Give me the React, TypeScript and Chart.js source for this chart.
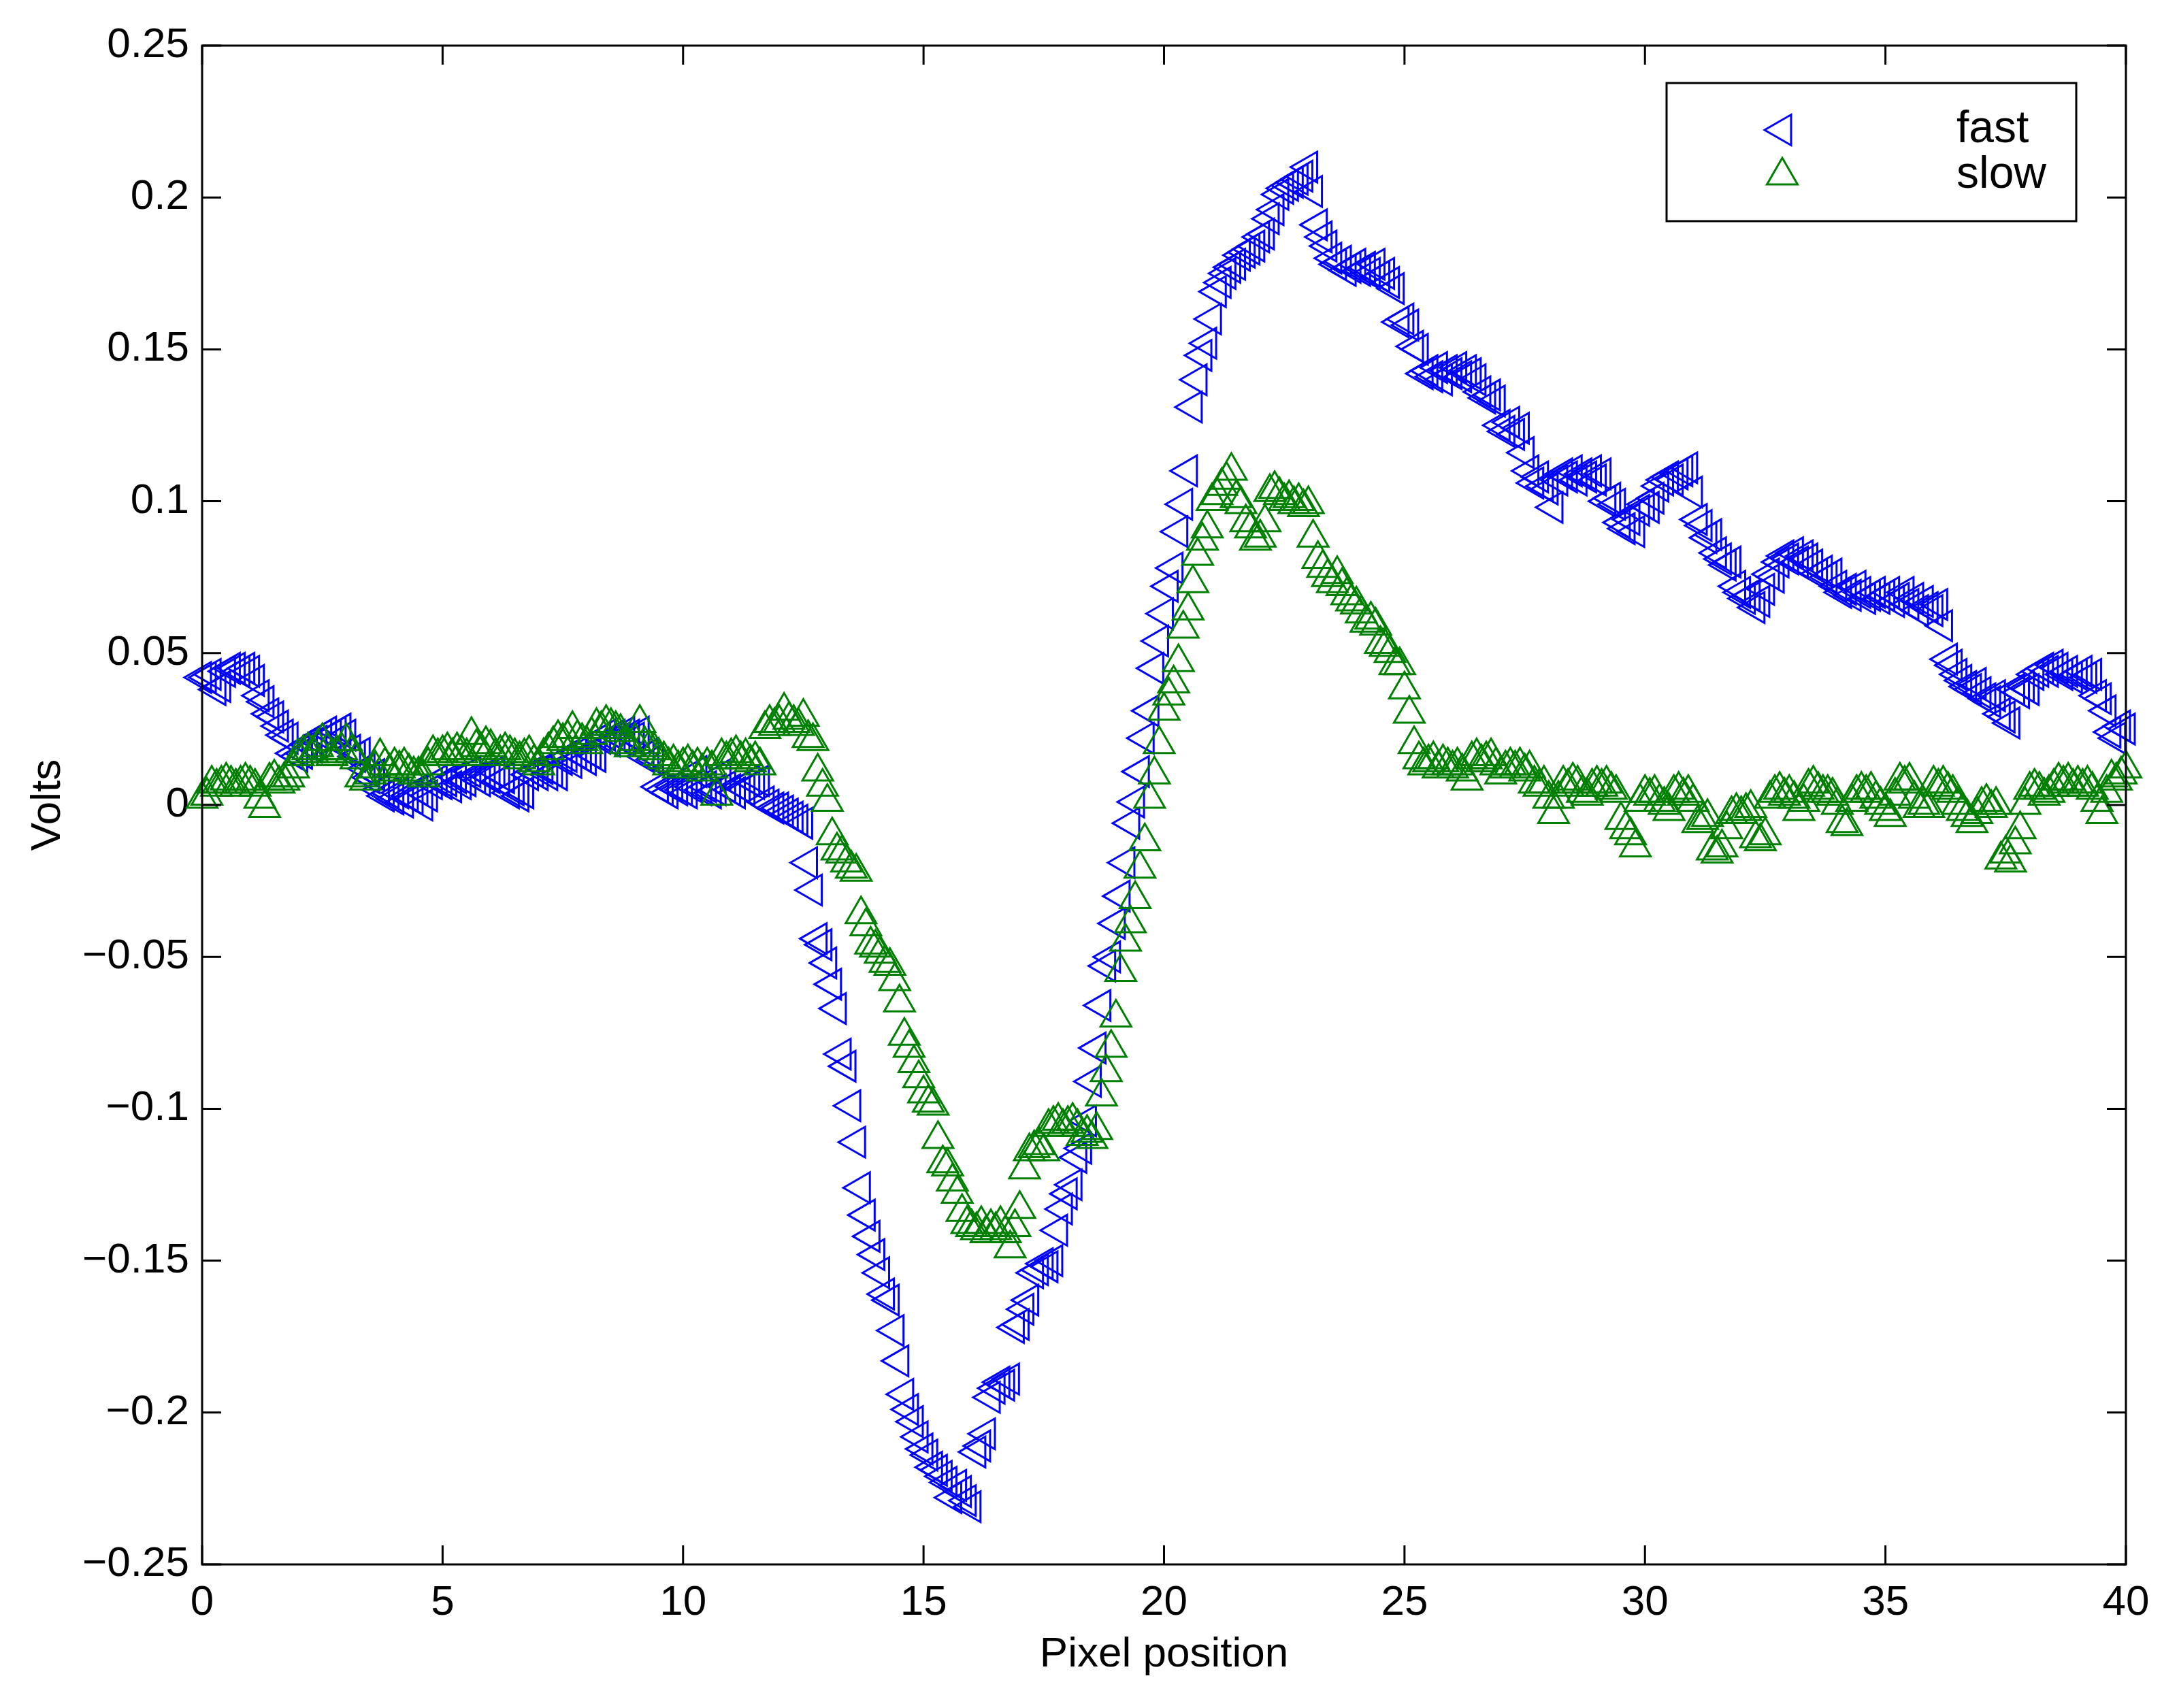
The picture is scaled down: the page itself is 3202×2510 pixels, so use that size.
import React, { useEffect, useRef } from 'react';
import { Chart, registerables } from 'chart.js';
import { drawPoint } from 'chart.js/helpers';

Chart.register(...registerables);

// ============================================
// DATA
// ============================================
// one sample every 0.1 pixel, 0 .. 40
const fastVolts: number[] = [
  0.042, 0.042, 0.043, 0.038, 0.039, 0.044, 0.045, 0.045, 0.044, 0.045,
  0.044, 0.041, 0.036, 0.034, 0.030, 0.029, 0.026, 0.023, 0.022, 0.017,
  0.016, 0.017, 0.020, 0.019, 0.021, 0.023, 0.024, 0.023, 0.024, 0.025,
  0.023, 0.018, 0.016, 0.017, 0.012, 0.009, 0.010, 0.005, 0.003, 0.004,
  0.002, 0.004, 0.001, 0.003, 0.002, 0.005, 0.000, 0.003, 0.007, 0.008,
  0.007, 0.008, 0.006, 0.009, 0.007, 0.008, 0.011, 0.009, 0.008, 0.010,
  0.009, 0.011, 0.008, 0.009, 0.004, 0.005, 0.003, 0.004, 0.010, 0.011,
  0.010, 0.012, 0.010, 0.011, 0.010, 0.015, 0.016, 0.014, 0.017, 0.016,
  0.015, 0.017, 0.016, 0.022, 0.023, 0.021, 0.023, 0.022, 0.024, 0.023,
  0.022, 0.024, 0.016, 0.017, 0.015, 0.006, 0.005, 0.004, 0.006, 0.005,
  0.005, 0.004, 0.006, 0.011, 0.005, 0.006, 0.004, 0.005, 0.010, 0.006,
  0.005, 0.004, 0.006, 0.005, 0.008, 0.007, 0.008, 0.001, 0.000, -0.001,
  -0.001, -0.002, -0.003, -0.004, -0.005, -0.006, -0.019, -0.028, -0.044, -0.046,
  -0.052, -0.059, -0.067, -0.082, -0.086, -0.099, -0.111, -0.126, -0.135, -0.142,
  -0.148, -0.154, -0.161, -0.163, -0.173, -0.183, -0.194, -0.199, -0.203, -0.208,
  -0.212, -0.214, -0.218, -0.219, -0.221, -0.223, -0.228, -0.224, -0.226, -0.229,
  -0.231, -0.213, -0.211, -0.207, -0.195, -0.192, -0.190, -0.191, -0.189, -0.172,
  -0.171, -0.166, -0.163, -0.154, -0.153, -0.151, -0.152, -0.150, -0.140, -0.133,
  -0.128, -0.125, -0.116, -0.113, -0.104, -0.091, -0.080, -0.066, -0.053, -0.050,
  -0.039, -0.030, -0.019, -0.006, 0.001, 0.011, 0.022, 0.031, 0.045, 0.054,
  0.063, 0.072, 0.078, 0.090, 0.099, 0.110, 0.131, 0.140, 0.148, 0.152,
  0.160, 0.169, 0.172, 0.175, 0.177, 0.178, 0.181, 0.182, 0.183, 0.184,
  0.187, 0.188, 0.193, 0.196, 0.201, 0.203, 0.204, 0.205, 0.206, 0.207,
  0.210, 0.202, 0.191, 0.187, 0.184, 0.180, 0.178, 0.179, 0.176, 0.177,
  0.178, 0.176, 0.177, 0.175, 0.178, 0.174, 0.175, 0.172, 0.170, 0.159,
  0.160, 0.158, 0.151, 0.150, 0.142, 0.143, 0.141, 0.144, 0.140, 0.143,
  0.142, 0.144, 0.141, 0.143, 0.142, 0.140, 0.136, 0.134, 0.135, 0.133,
  0.125, 0.123, 0.126, 0.122, 0.124, 0.116, 0.110, 0.106, 0.108, 0.105,
  0.104, 0.098, 0.107, 0.109, 0.108, 0.110, 0.107, 0.109, 0.108, 0.110,
  0.107, 0.109, 0.100, 0.101, 0.099, 0.093, 0.091, 0.094, 0.090, 0.097,
  0.099, 0.098, 0.101, 0.105, 0.107, 0.108, 0.107, 0.109, 0.110, 0.111,
  0.103, 0.094, 0.092, 0.088, 0.089, 0.083, 0.081, 0.079, 0.080, 0.072,
  0.070, 0.068, 0.069, 0.065, 0.067, 0.071, 0.076, 0.075, 0.080, 0.082,
  0.081, 0.083, 0.080, 0.082, 0.081, 0.079, 0.076, 0.077, 0.075, 0.076,
  0.072, 0.070, 0.071, 0.069, 0.072, 0.070, 0.068, 0.069, 0.070, 0.068,
  0.069, 0.070, 0.067, 0.068, 0.070, 0.066, 0.068, 0.064, 0.067, 0.065,
  0.064, 0.066, 0.059, 0.048, 0.046, 0.043, 0.041, 0.039, 0.038, 0.040,
  0.037, 0.035, 0.034, 0.036, 0.030, 0.029, 0.027, 0.038, 0.037, 0.039,
  0.038, 0.043, 0.044, 0.045, 0.044, 0.046, 0.045, 0.043, 0.044, 0.042,
  0.043, 0.044, 0.042, 0.043, 0.036, 0.035, 0.031, 0.024, 0.022, 0.026,
  0.025,
];

const slowVolts: number[] = [
  0.002, 0.003, 0.007, 0.006, 0.007, 0.008, 0.007, 0.006, 0.007, 0.008,
  0.007, 0.006, 0.002, -0.001, 0.008, 0.009, 0.007, 0.008, 0.009, 0.012,
  0.016, 0.017, 0.018, 0.017, 0.019, 0.021, 0.018, 0.016, 0.017, 0.018,
  0.021, 0.017, 0.015, 0.009, 0.008, 0.010, 0.012, 0.016, 0.013, 0.011,
  0.013, 0.012, 0.013, 0.011, 0.010, 0.010, 0.009, 0.013, 0.017, 0.016,
  0.017, 0.018, 0.016, 0.018, 0.017, 0.016, 0.023, 0.019, 0.018, 0.020,
  0.019, 0.016, 0.017, 0.018, 0.017, 0.016, 0.015, 0.016, 0.017, 0.014,
  0.013, 0.016, 0.018, 0.020, 0.022, 0.021, 0.022, 0.025, 0.022, 0.021,
  0.020, 0.023, 0.026, 0.025, 0.027, 0.026, 0.025, 0.024, 0.020, 0.019,
  0.021, 0.027, 0.020, 0.019, 0.018, 0.016, 0.015, 0.013, 0.014, 0.012,
  0.013, 0.014, 0.012, 0.013, 0.011, 0.013, 0.012, 0.003, 0.016, 0.015,
  0.016, 0.017, 0.015, 0.016, 0.014, 0.015, 0.013, 0.025, 0.027, 0.026,
  0.027, 0.031, 0.028, 0.027, 0.026, 0.029, 0.022, 0.021, 0.011, 0.006,
  0.001, -0.010, -0.015, -0.016, -0.019, -0.021, -0.022, -0.036, -0.040, -0.046,
  -0.047, -0.049, -0.052, -0.053, -0.058, -0.065, -0.076, -0.080, -0.085, -0.090,
  -0.095, -0.098, -0.099, -0.110, -0.118, -0.119, -0.124, -0.128, -0.134, -0.138,
  -0.139, -0.140, -0.138, -0.141, -0.139, -0.140, -0.138, -0.141, -0.146, -0.139,
  -0.133, -0.120, -0.114, -0.113, -0.112, -0.114, -0.106, -0.105, -0.104, -0.106,
  -0.105, -0.104, -0.106, -0.109, -0.108, -0.110, -0.107, -0.096, -0.088, -0.080,
  -0.070, -0.055, -0.045, -0.039, -0.031, -0.021, -0.012, 0.002, 0.010, 0.020,
  0.031, 0.036, 0.040, 0.047, 0.058, 0.064, 0.073, 0.082, 0.087, 0.091,
  0.100, 0.102, 0.105, 0.107, 0.110, 0.101, 0.099, 0.093, 0.091, 0.087,
  0.088, 0.093, 0.103, 0.104, 0.102, 0.100, 0.101, 0.099, 0.100, 0.098,
  0.099, 0.088, 0.081, 0.078, 0.075, 0.073, 0.076, 0.072, 0.069, 0.067,
  0.066, 0.063, 0.060, 0.061, 0.059, 0.053, 0.052, 0.050, 0.046, 0.046,
  0.038, 0.030, 0.020, 0.015, 0.013, 0.014, 0.015, 0.012, 0.014, 0.013,
  0.012, 0.013, 0.011, 0.008, 0.015, 0.016, 0.014, 0.015, 0.016, 0.013,
  0.010, 0.012, 0.013, 0.012, 0.013, 0.011, 0.012, 0.007, 0.006, 0.007,
  0.002, -0.003, 0.002, 0.007, 0.006, 0.008, 0.007, 0.004, 0.003, 0.006,
  0.007, 0.006, 0.007, 0.005, 0.004, -0.005, -0.008, -0.010, -0.014, 0.001,
  0.004, 0.003, 0.004, 0.001, 0.000, -0.002, 0.004, 0.005, 0.003, 0.004,
  0.001, -0.006, -0.005, -0.004, -0.015, -0.016, -0.014, -0.008, -0.003, -0.002,
  -0.003, -0.002, -0.001, -0.011, -0.012, -0.010, 0.002, 0.004, 0.005, 0.003,
  0.004, 0.002, -0.002, 0.001, 0.006, 0.007, 0.005, 0.004, 0.004, 0.003,
  0.000, -0.006, -0.007, 0.001, 0.004, 0.005, 0.004, 0.005, 0.002, 0.000,
  -0.002, -0.004, 0.003, 0.008, 0.007, 0.008, 0.002, -0.001, 0.000, -0.001,
  0.007, 0.006, 0.007, 0.005, 0.004, 0.000, -0.002, -0.004, -0.006, -0.003,
  0.000, 0.001, -0.001, 0.000, -0.018, -0.016, -0.019, -0.013, -0.008, 0.000,
  0.005, 0.006, 0.005, 0.003, 0.004, 0.006, 0.008, 0.007, 0.008, 0.006,
  0.007, 0.006, 0.007, 0.005, 0.001, -0.003, 0.004, 0.009, 0.008, 0.010,
  0.012,
];

// sample positions along the x axis (pixel units)
const pixelPositions: number[] = fastVolts.map((_, i) => i / 10);

const xTicks = [0, 5, 10, 15, 20, 25, 30, 35, 40];
const yTicks = [-0.25, -0.2, -0.15, -0.1, -0.05, 0, 0.05, 0.1, 0.15, 0.2, 0.25];

const seriesLabels = ['fast', 'slow'];

// ============================================
// LOOK
// ============================================
const FONT = "'Liberation Sans', Arial, Helvetica, sans-serif";
const W = 3202;
const H = 2510;
const TICK_LEN = 28;
const LINE_W = 3;
const MARKER_R = 26;

Chart.defaults.font.family = FONT;

// MATLAB-style box with inward ticks on all four sides
const axesBoxPlugin = {
  id: 'axesBox',
  afterDraw(chart: any) {
    const { ctx, chartArea, scales } = chart;
    const { left, right, top, bottom } = chartArea;
    ctx.save();
    ctx.strokeStyle = '#000';
    ctx.lineWidth = LINE_W;
    ctx.beginPath();
    xTicks.forEach((v) => {
      const px = scales.x.getPixelForValue(v);
      ctx.moveTo(px, bottom);
      ctx.lineTo(px, bottom - TICK_LEN);
      ctx.moveTo(px, top);
      ctx.lineTo(px, top + TICK_LEN);
    });
    yTicks.forEach((v) => {
      const py = scales.y.getPixelForValue(v);
      ctx.moveTo(left, py);
      ctx.lineTo(left + TICK_LEN, py);
      ctx.moveTo(right, py);
      ctx.lineTo(right - TICK_LEN, py);
    });
    ctx.stroke();
    ctx.strokeRect(left, top, right - left, bottom - top);
    ctx.restore();
  },
};

// legend box in the upper right corner of the axes
const boxLegendPlugin = {
  id: 'boxLegend',
  afterDraw(chart: any) {
    const { ctx, chartArea } = chart;
    const boxW = 602;
    const boxH = 203;
    const bx = chartArea.right - 73 - boxW;
    const by = chartArea.top + 55;
    ctx.save();
    ctx.fillStyle = '#fff';
    ctx.fillRect(bx, by, boxW, boxH);
    ctx.strokeStyle = '#000';
    ctx.lineWidth = LINE_W;
    ctx.strokeRect(bx, by, boxW, boxH);

    const rowY = [by + 69, by + 136];
    seriesLabels.forEach((label, i) => {
      const ds = chart.data.datasets.find((d: any) => d.label === label);
      ctx.strokeStyle = ds.pointBorderColor;
      ctx.fillStyle = 'rgba(0,0,0,0)';
      ctx.lineWidth = LINE_W;
      drawPoint(ctx, {
        pointStyle: 'triangle',
        rotation: ds.pointRotation,
        radius: MARKER_R,
        borderWidth: LINE_W,
      } as any, bx + 170, rowY[i]);
      ctx.fillStyle = '#000';
      ctx.font = `66px ${FONT}`;
      ctx.textAlign = 'left';
      ctx.textBaseline = 'middle';
      ctx.fillText(label, bx + 426, rowY[i]);
    });
    ctx.restore();
  },
};

const formatTick = (v: number) => String(v).replace('-', '\u2212');

// ============================================
// CHART
// ============================================
const VoltsChart: React.FC = () => {
  const canvasRef = useRef<HTMLCanvasElement>(null);
  const chartRef = useRef<Chart | null>(null);

  useEffect(() => {
    document.body.style.margin = '0';
    if (!canvasRef.current) return;
    if (chartRef.current) chartRef.current.destroy();

    const font = { family: FONT, size: 62 };

    chartRef.current = new Chart(canvasRef.current, {
      type: 'scatter',
      data: {
        datasets: [
          {
            label: 'fast',
            data: pixelPositions.map((x, i) => ({ x, y: fastVolts[i] })),
            order: 1,
            showLine: false,
            clip: false,
            pointStyle: 'triangle',
            pointRotation: -90,
            pointRadius: MARKER_R,
            pointBorderWidth: LINE_W,
            pointBorderColor: '#0000ff',
            pointBackgroundColor: 'rgba(0,0,0,0)',
          },
          {
            label: 'slow',
            data: pixelPositions.map((x, i) => ({ x, y: slowVolts[i] })),
            order: 0,
            showLine: false,
            clip: false,
            pointStyle: 'triangle',
            pointRotation: 0,
            pointRadius: MARKER_R,
            pointBorderWidth: LINE_W,
            pointBorderColor: '#008000',
            pointBackgroundColor: 'rgba(0,0,0,0)',
          },
        ],
      } as any,
      options: {
        responsive: false,
        devicePixelRatio: 1,
        animation: false,
        events: [],
        layout: { padding: { top: 67, right: 78, left: 0, bottom: 0 } },
        plugins: {
          legend: { display: false },
          tooltip: { enabled: false },
        },
        scales: {
          x: {
            type: 'linear',
            min: 0,
            max: 40,
            afterBuildTicks: (s: any) => { s.ticks = xTicks.map((value) => ({ value })); },
            afterFit: (s: any) => { s.height = 211; },
            ticks: { font, color: '#000', padding: 20, maxRotation: 0, autoSkip: false, callback: (v: any) => formatTick(v) },
            grid: { display: false, drawTicks: false },
            border: { display: false },
            title: { display: true, text: 'Pixel position', font, color: '#000', padding: { top: 0, bottom: 41 } },
          },
          y: {
            type: 'linear',
            min: -0.25,
            max: 0.25,
            afterBuildTicks: (s: any) => { s.ticks = yTicks.map((value) => ({ value })); },
            afterFit: (s: any) => { s.width = 297; },
            ticks: { font, color: '#000', padding: 19, autoSkip: false, callback: (v: any) => formatTick(v) },
            grid: { display: false, drawTicks: false },
            border: { display: false },
            title: { display: true, text: 'Volts', font, color: '#000', padding: { top: 34, bottom: 0 } },
          },
        },
      } as any,
      plugins: [axesBoxPlugin, boxLegendPlugin],
    });

    return () => {
      if (chartRef.current) {
        chartRef.current.destroy();
        chartRef.current = null;
      }
    };
  }, []);

  return (
    <div style={{ width: W, height: H, background: '#fff' }}>
      <canvas ref={canvasRef} width={W} height={H} style={{ display: 'block' }} />
    </div>
  );
};

export default function App() {
  return <VoltsChart />;
}
